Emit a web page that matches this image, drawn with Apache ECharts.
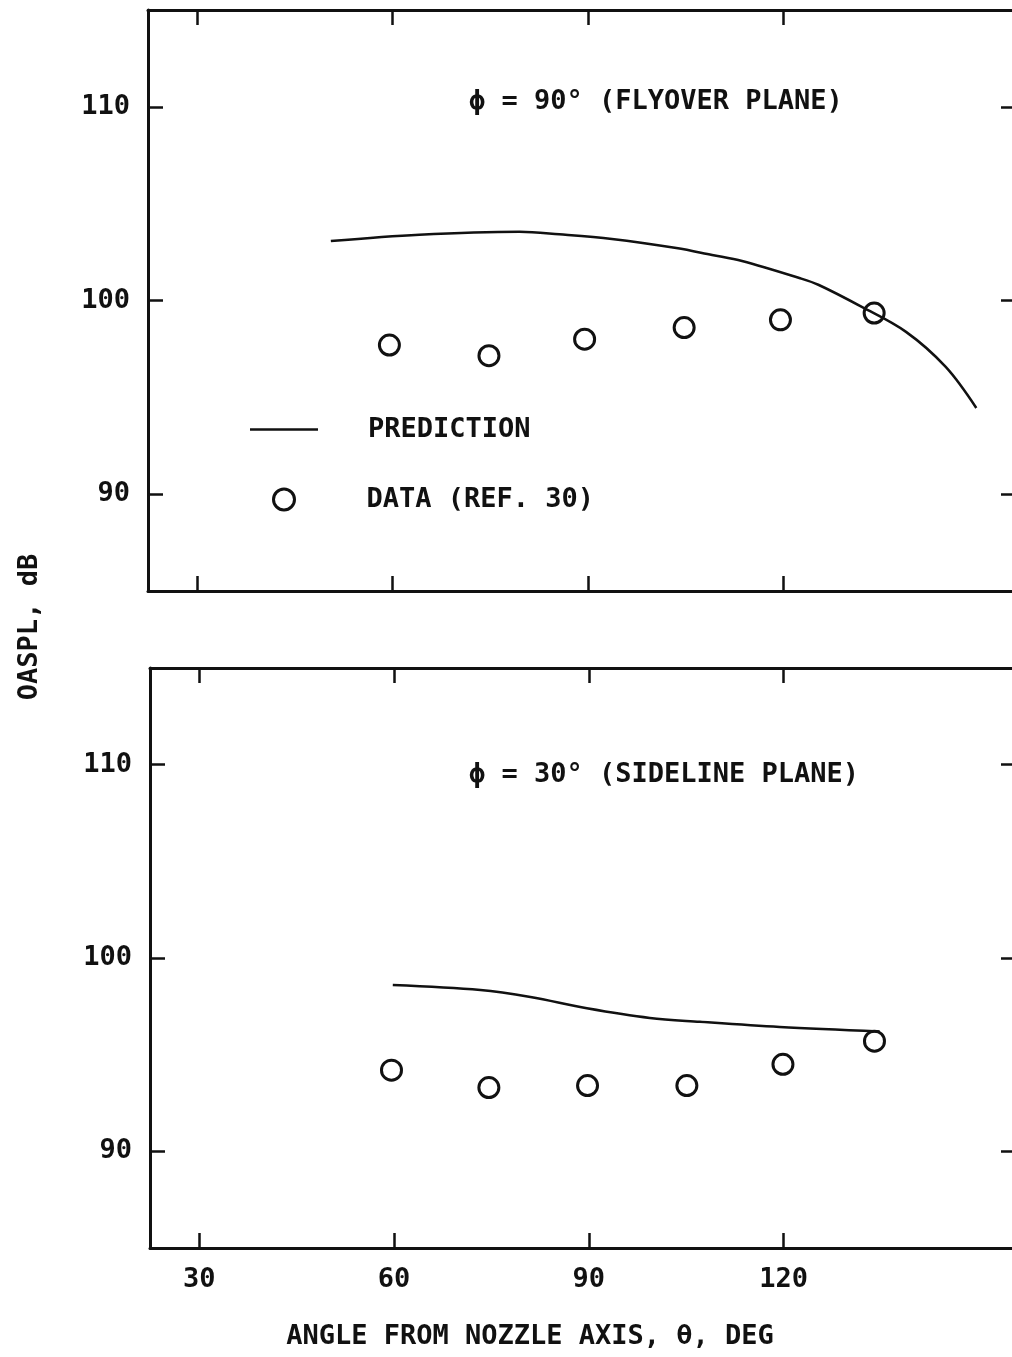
<!DOCTYPE html>
<html>
<head>
<meta charset="utf-8">
<script src="https://cdn.jsdelivr.net/npm/echarts@6/dist/echarts.min.js"></script>
<style>
html,body{margin:0;padding:0;background:#fff;}
#chart{width:1012px;height:1357px;}
</style>
</head>
<body>
<div id="chart"></div>
<script>
// ---- data ----
const xTicks = [30, 60, 90, 120];
const yTicks = [90, 100, 110];

// phi = 90 deg (flyover plane)
const flyoverDataAngles = [59.5, 74.8, 89.5, 104.8, 119.6, 134.0];
const flyoverData = [97.7, 97.15, 98.0, 98.6, 99.0, 99.35];
const flyoverPredAngles = [50.5, 64.1, 79.5, 85.6, 93.7, 103.6, 109.1, 113.7, 122.5, 125.5, 132.1, 138.9, 145.0, 149.7];
const flyoverPred = [103.07, 103.4, 103.55, 103.42, 103.18, 102.71, 102.35, 102.04, 101.16, 100.8, 99.67, 98.38, 96.57, 94.45];

// phi = 30 deg (sideline plane)
const sidelineDataAngles = [59.6, 74.6, 89.8, 105.1, 119.9, 134.0];
const sidelineData = [94.2, 93.3, 93.4, 93.4, 94.5, 95.7];
const sidelinePredAngles = [59.8, 73.3, 81.0, 89.7, 99.4, 107.1, 119.4, 134.8];
const sidelinePred = [98.6, 98.34, 97.98, 97.4, 96.9, 96.7, 96.43, 96.2];

const pairs = (xs, ys) => xs.map((x, i) => [x, ys[i]]);

// ---- styles ----
const FONT = 'DejaVu Sans Mono';
const INK = '#111';
const FS = 27;
const X_MIN = 22.4, X_MAX = 155.8;
const Y_MIN = 85, Y_MAX = 115;

function xAx(gridIndex, position, showLabels) {
  return {
    type: 'value', gridIndex, position, min: X_MIN, max: X_MAX,
    axisLine: { show: true, onZero: false, lineStyle: { color: INK, width: 3 } },
    axisTick: { show: true, inside: true, length: 15, customValues: xTicks, lineStyle: { color: INK, width: 2.5 } },
    axisLabel: { show: showLabels, customValues: xTicks, margin: 18, color: INK, fontFamily: FONT, fontSize: FS, fontWeight: 'bold' },
    splitLine: { show: false }
  };
}
function yAx(gridIndex, position, showLabels) {
  return {
    type: 'value', gridIndex, position, min: Y_MIN, max: Y_MAX,
    axisLine: { show: true, onZero: false, lineStyle: { color: INK, width: 3 } },
    axisTick: { show: true, inside: true, length: 15, customValues: yTicks, lineStyle: { color: INK, width: 2.5 } },
    axisLabel: { show: showLabels, customValues: yTicks, margin: 18, color: INK, fontFamily: FONT, fontSize: FS, fontWeight: 'bold' },
    splitLine: { show: false }
  };
}

const lineStyle = { color: INK, width: 2.5 };
const circleStyle = { color: 'rgba(0,0,0,0)', borderColor: INK, borderWidth: 3, opacity: 1 };
const textFont = 'bold ' + FS + 'px "' + FONT + '"';

const chart = echarts.init(document.getElementById('chart'), null, { renderer: 'canvas' });
chart.setOption({
  backgroundColor: '#fff',
  animation: false,
  grid: [
    { left: 148, top: 10, width: 868, height: 581, outerBoundsMode: 'none', containLabel: false },
    { left: 150, top: 668, width: 866, height: 580, outerBoundsMode: 'none', containLabel: false }
  ],
  xAxis: [xAx(0, 'bottom', false), xAx(0, 'top', false), xAx(1, 'bottom', true), xAx(1, 'top', false)],
  yAxis: [yAx(0, 'left', true), yAx(0, 'right', false), yAx(1, 'left', true), yAx(1, 'right', false)],
  legend: [
    {
      left: 250, top: 416, padding: 0, itemWidth: 68, itemHeight: 2.5, itemGap: 0,
      data: [{ name: 'PREDICTION', icon: 'rect', itemStyle: { color: INK } }], selectedMode: false,
      textStyle: { color: INK, fontFamily: FONT, fontSize: FS, fontWeight: 'bold', padding: [0, 0, 0, 45] }
    },
    {
      left: 272, top: 486, padding: 0, itemWidth: 21, itemHeight: 21, itemGap: 0,
      data: [{ name: 'DATA (REF. 30)', icon: 'circle', itemStyle: circleStyle }], selectedMode: false,
      textStyle: { color: INK, fontFamily: FONT, fontSize: FS, fontWeight: 'bold', padding: [0, 0, 0, 67] }
    }
  ],
  series: [
    { name: 'PREDICTION', type: 'line', xAxisIndex: 0, yAxisIndex: 0, smooth: 0.35, symbol: 'none',
      lineStyle, itemStyle: { color: INK }, data: pairs(flyoverPredAngles, flyoverPred) },
    { name: 'DATA (REF. 30)', type: 'scatter', xAxisIndex: 0, yAxisIndex: 0, symbol: 'circle', symbolSize: 20,
      itemStyle: circleStyle, z: 3, data: pairs(flyoverDataAngles, flyoverData) },
    { name: 'PREDICTION', type: 'line', xAxisIndex: 2, yAxisIndex: 2, smooth: 0.35, symbol: 'none',
      lineStyle, itemStyle: { color: INK }, data: pairs(sidelinePredAngles, sidelinePred) },
    { name: 'DATA (REF. 30)', type: 'scatter', xAxisIndex: 2, yAxisIndex: 2, symbol: 'circle', symbolSize: 20,
      itemStyle: circleStyle, z: 3, data: pairs(sidelineDataAngles, sidelineData) }
  ],
  graphic: [
    { type: 'text', left: 469, top: 88, style: { text: 'ϕ = 90° (FLYOVER PLANE)', fill: INK, font: textFont } },
    { type: 'text', left: 469, top: 761, style: { text: 'ϕ = 30° (SIDELINE PLANE)', fill: INK, font: textFont } },
    { type: 'text', x: 30, y: 627, rotation: Math.PI / 2,
      style: { text: 'OASPL, dB', fill: INK, font: textFont, textAlign: 'center', textVerticalAlign: 'middle' } },
    { type: 'text', x: 530, y: 1337,
      style: { text: 'ANGLE FROM NOZZLE AXIS, θ, DEG', fill: INK, font: textFont, textAlign: 'center', textVerticalAlign: 'middle' } }
  ]
});
</script>
</body>
</html>
